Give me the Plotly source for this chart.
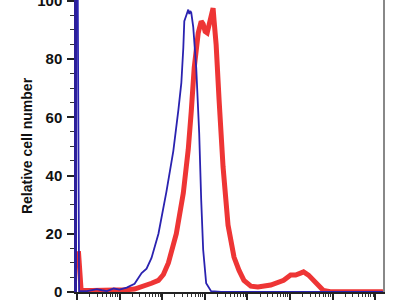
import plotly.graph_objects as go

# Fluorescence intensity (log-scale x) and relative cell counts
blue_x = [1.0, 1.12, 1.71, 2.93, 3.83, 5.01, 7.3, 10, 14.7, 22.5, 32.9, 43, 56.2, 81.8,
          126, 183, 240, 282, 314, 331, 368, 410, 433, 457, 482, 537, 631, 741, 826,
          918, 1080, 1410, 2420, 15300000]
blue_y = [160, 0.3, 0.3, 1.0, 0.6, 0.3, 1.2, 0.8, 1.5, 2.8, 6.5, 8, 11.7, 20,
          34.5, 48.5, 62.5, 71.8, 84, 93, 95, 97, 95.5, 96.5, 96, 91, 77, 54.5, 31.5,
          14.5, 3, 0.3, 0, 0]

red_x = [1.08, 1.25, 2.24, 6.56, 14.7, 22.5, 38.6, 56.2, 81.8, 107, 140, 174, 215,
         314, 410, 482, 566, 703, 826, 918, 1020, 1140, 1270, 1410, 1570, 1660, 1850,
         2170, 2690, 3520, 4860, 6350, 8320, 12100, 17700, 35500, 71300, 104000,
         136000, 178000, 209000, 273000, 443000, 612000, 891000, 15300000]
red_y = [14, 0.5, 0.5, 0.5, 0.8, 1, 2, 3, 4, 6, 10, 15, 20,
         34, 49, 62, 77, 89, 93, 92, 89.5, 89, 92, 94, 97.5, 93, 85,
         66, 43, 23, 12, 7.5, 4, 2, 1.7, 2.4, 4, 5.8,
         5.8, 6.5, 6.9, 5.8, 2.4, 0.5, 0.1, 0.1]

x_tickvals = [1, 10, 100, 1000, 10000, 100000, 1000000, 10000000]
x_ticktext = ["10<sup>0</sup>", "10<sup>1</sup>", "10<sup>2</sup>", "10<sup>3</sup>",
              "10<sup>4</sup>", "10<sup>5</sup>", "10<sup>6</sup>", "10<sup>7</sup>"]
y_tickvals = [0, 20, 40, 60, 80, 100]
y_title = "Relative cell number"

fig = go.Figure()
fig.add_trace(go.Scatter(x=red_x, y=red_y, mode="lines",
                         line=dict(color="#ee3535", width=5), showlegend=False))
fig.add_trace(go.Scatter(x=blue_x, y=blue_y, mode="lines",
                         line=dict(color="#2a22b0", width=1.8), showlegend=False))
# invisible trace to carry the right-hand frame axis
fig.add_trace(go.Scatter(x=[10], y=[0], yaxis="y2", mode="markers",
                         marker=dict(opacity=0), showlegend=False, hoverinfo="skip"))

tickfont = dict(family="Liberation Sans, Arial, sans-serif", size=15, color="#111111", weight="bold")

fig.update_layout(
    width=400, height=300,
    margin=dict(l=77, r=17, t=0, b=8),
    paper_bgcolor="white", plot_bgcolor="white",
    xaxis=dict(type="log", range=[0, 7.186], showgrid=False, zeroline=False, automargin=False,
               showline=True, linecolor="#222222", linewidth=1.5, ticklabeloverflow="allow",
               ticks="outside", ticklen=6, tickwidth=1.5, tickcolor="#222222",
               tickvals=x_tickvals, ticktext=x_ticktext, tickfont=tickfont,
               minor=dict(ticks="outside", ticklen=3, tickwidth=1, tickcolor="#333333", dtick="D1")),
    yaxis=dict(range=[0, 100.3], showgrid=False, zeroline=False, automargin=False,
               showline=True, linecolor="#2c1f9a", linewidth=2.5, ticklabeloverflow="allow",
               ticks="outside", ticklen=7, tickwidth=1.5, tickcolor="#222222",
               tickvals=y_tickvals, tickfont=tickfont, ticklabelstandoff=2,
               minor=dict(ticks="outside", ticklen=4, tickwidth=1, tickcolor="#333333", dtick=5),
               title=dict(text=y_title, standoff=2,
                          font=dict(family="Liberation Sans, Arial, sans-serif", size=14,
                                    color="#111111", weight="bold"))),
    yaxis2=dict(overlaying="y", side="right", range=[0, 100.3], showline=True, automargin=False,
                linecolor="#888888", linewidth=1.5, showticklabels=False, ticks="",
                showgrid=False, zeroline=False),
)

fig.write_html("out.html")
